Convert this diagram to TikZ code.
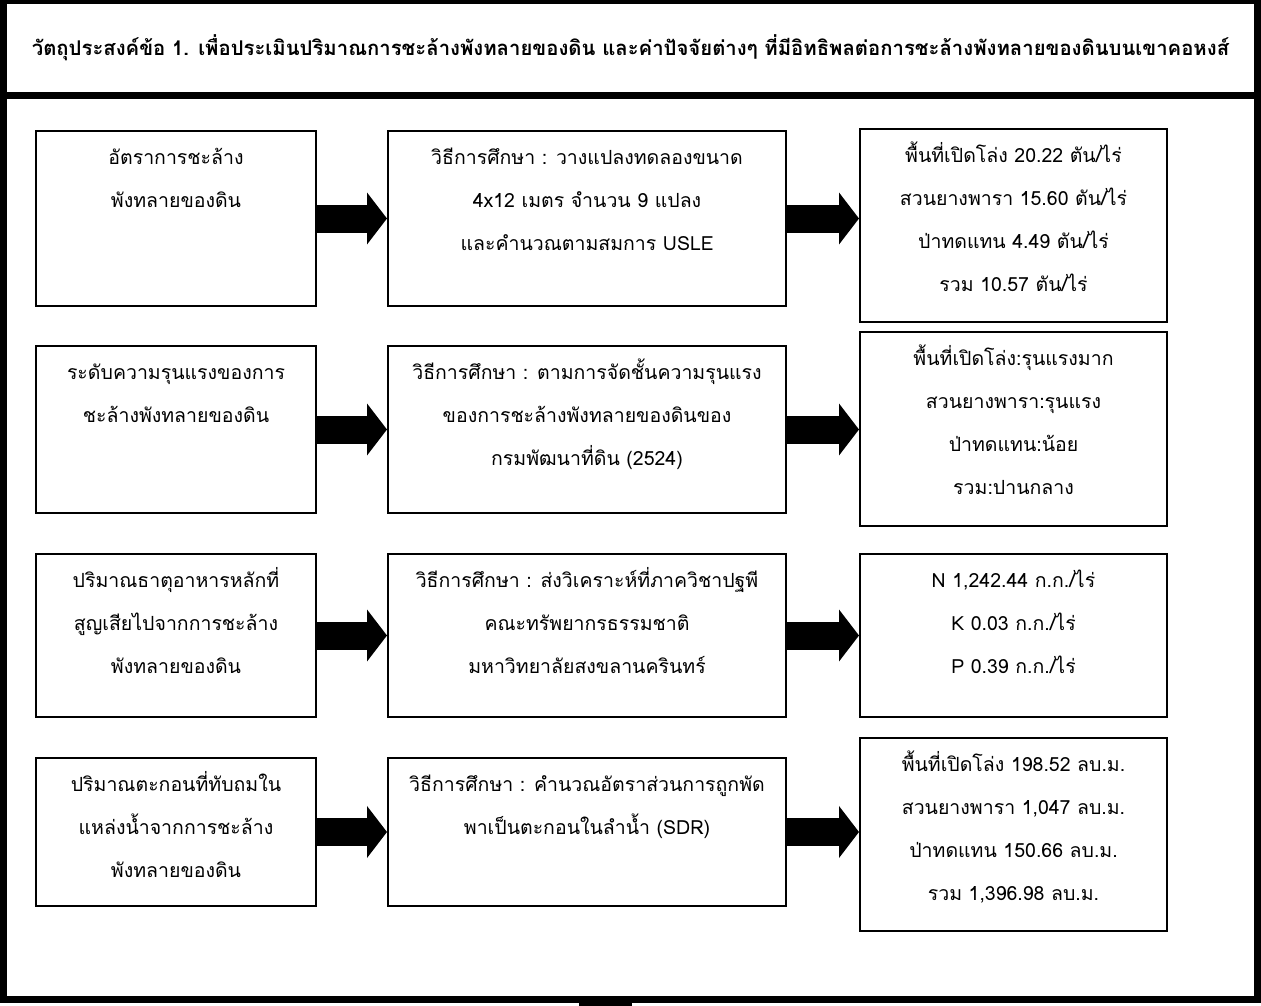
\documentclass[tikz,border=0pt]{standalone}
\usepackage{fontspec}
\usepackage{tikz}
\usetikzlibrary{arrows.meta,positioning,calc}
\newfontfamily\thaifont[Script=Thai]{Loma}
% text block of a box: width, height, lines (top aligned)
\newcommand{\boxcell}[3]{\parbox[c][#2pt][t]{#1pt}{\centering\rule{0pt}{33pt}#3}}

\begin{document}
\begin{tikzpicture}[x=1pt,y=-1pt,
  frame/.style={line width=7pt},
  box/.style={draw,line width=2pt,inner sep=0pt,anchor=north west,
    font=\thaifont\fontsize{19.5}{43}\selectfont},
  bigarrow/.style={line width=28pt,-{Triangle[length=20pt,width=51pt]}}]
  \useasboundingbox (0,0) rectangle (1261,1006);
  % outer frames
  \draw[frame] (3.5,1) rectangle (1257.5,96);
  \draw[frame] (3.5,96) rectangle (1257.5,999.5);
  \fill (579,999) rectangle (632,1006);
  \node[font=\thaifont\bfseries\fontsize{20.3}{24}\selectfont] (title) at (630.5,48)
    {วัตถุประสงค์ข้อ 1. เพื่อประเมินปริมาณการชะล้างพังทลายของดิน และค่าปัจจัยต่างๆ ที่มีอิทธิพลต่อการชะล้างพังทลายของดินบนเขาคอหงส์};

  % row 1
  \node[box] (a1) at (35,130) {\boxcell{280}{175}{อัตราการชะล้าง\\พังทลายของดิน}};
  \node[box] (b1) at (387,130) {\boxcell{398}{175}{วิธีการศึกษา : วางแปลงทดลองขนาด\\4x12 เมตร จำนวน 9 แปลง\\และคำนวณตามสมการ USLE}};
  \node[box] (c1) at (859,128) {\boxcell{307}{193}{พื้นที่เปิดโล่ง 20.22 ตัน/ไร่\\สวนยางพารา 15.60 ตัน/ไร่\\ป่าทดแทน 4.49 ตัน/ไร่\\รวม 10.57 ตัน/ไร่}};
  % row 2
  \node[box] (a2) at (35,345) {\boxcell{280}{167}{ระดับความรุนแรงของการ\\ชะล้างพังทลายของดิน}};
  \node[box] (b2) at (387,345) {\boxcell{398}{167}{วิธีการศึกษา : ตามการจัดชั้นความรุนแรง\\ของการชะล้างพังทลายของดินของ\\กรมพัฒนาที่ดิน (2524)}};
  \node[box] (c2) at (859,331) {\boxcell{307}{194}{พื้นที่เปิดโล่ง:รุนแรงมาก\\สวนยางพารา:รุนแรง\\ป่าทดแทน:น้อย\\รวม:ปานกลาง}};
  % row 3
  \node[box] (a3) at (35,553) {\boxcell{280}{163}{ปริมาณธาตุอาหารหลักที่\\สูญเสียไปจากการชะล้าง\\พังทลายของดิน}};
  \node[box] (b3) at (387,553) {\boxcell{398}{163}{วิธีการศึกษา : ส่งวิเคราะห์ที่ภาควิชาปฐพี\\คณะทรัพยากรธรรมชาติ\\มหาวิทยาลัยสงขลานครินทร์}};
  \node[box] (c3) at (859,553) {\boxcell{307}{163}{N 1,242.44 ก.ก./ไร่\\K 0.03 ก.ก./ไร่\\P 0.39 ก.ก./ไร่}};
  % row 4
  \node[box] (a4) at (35,757) {\boxcell{280}{148}{ปริมาณตะกอนที่ทับถมใน\\แหล่งน้ำจากการชะล้าง\\พังทลายของดิน}};
  \node[box] (b4) at (387,757) {\boxcell{398}{148}{วิธีการศึกษา : คำนวณอัตราส่วนการถูกพัด\\พาเป็นตะกอนในลำน้ำ (SDR)}};
  \node[box] (c4) at (859,737) {\boxcell{307}{193}{พื้นที่เปิดโล่ง 198.52 ลบ.ม.\\สวนยางพารา 1,047 ลบ.ม.\\ป่าทดแทน 150.66 ลบ.ม.\\รวม 1,396.98 ลบ.ม.}};

  % block arrows
  \foreach \r in {1,...,4} {
    \draw[bigarrow] (a\r.east) -- (b\r.west);
    \draw[bigarrow] (b\r.east) -- (b\r.east -| c\r.west);
  }
\end{tikzpicture}
\end{document}
